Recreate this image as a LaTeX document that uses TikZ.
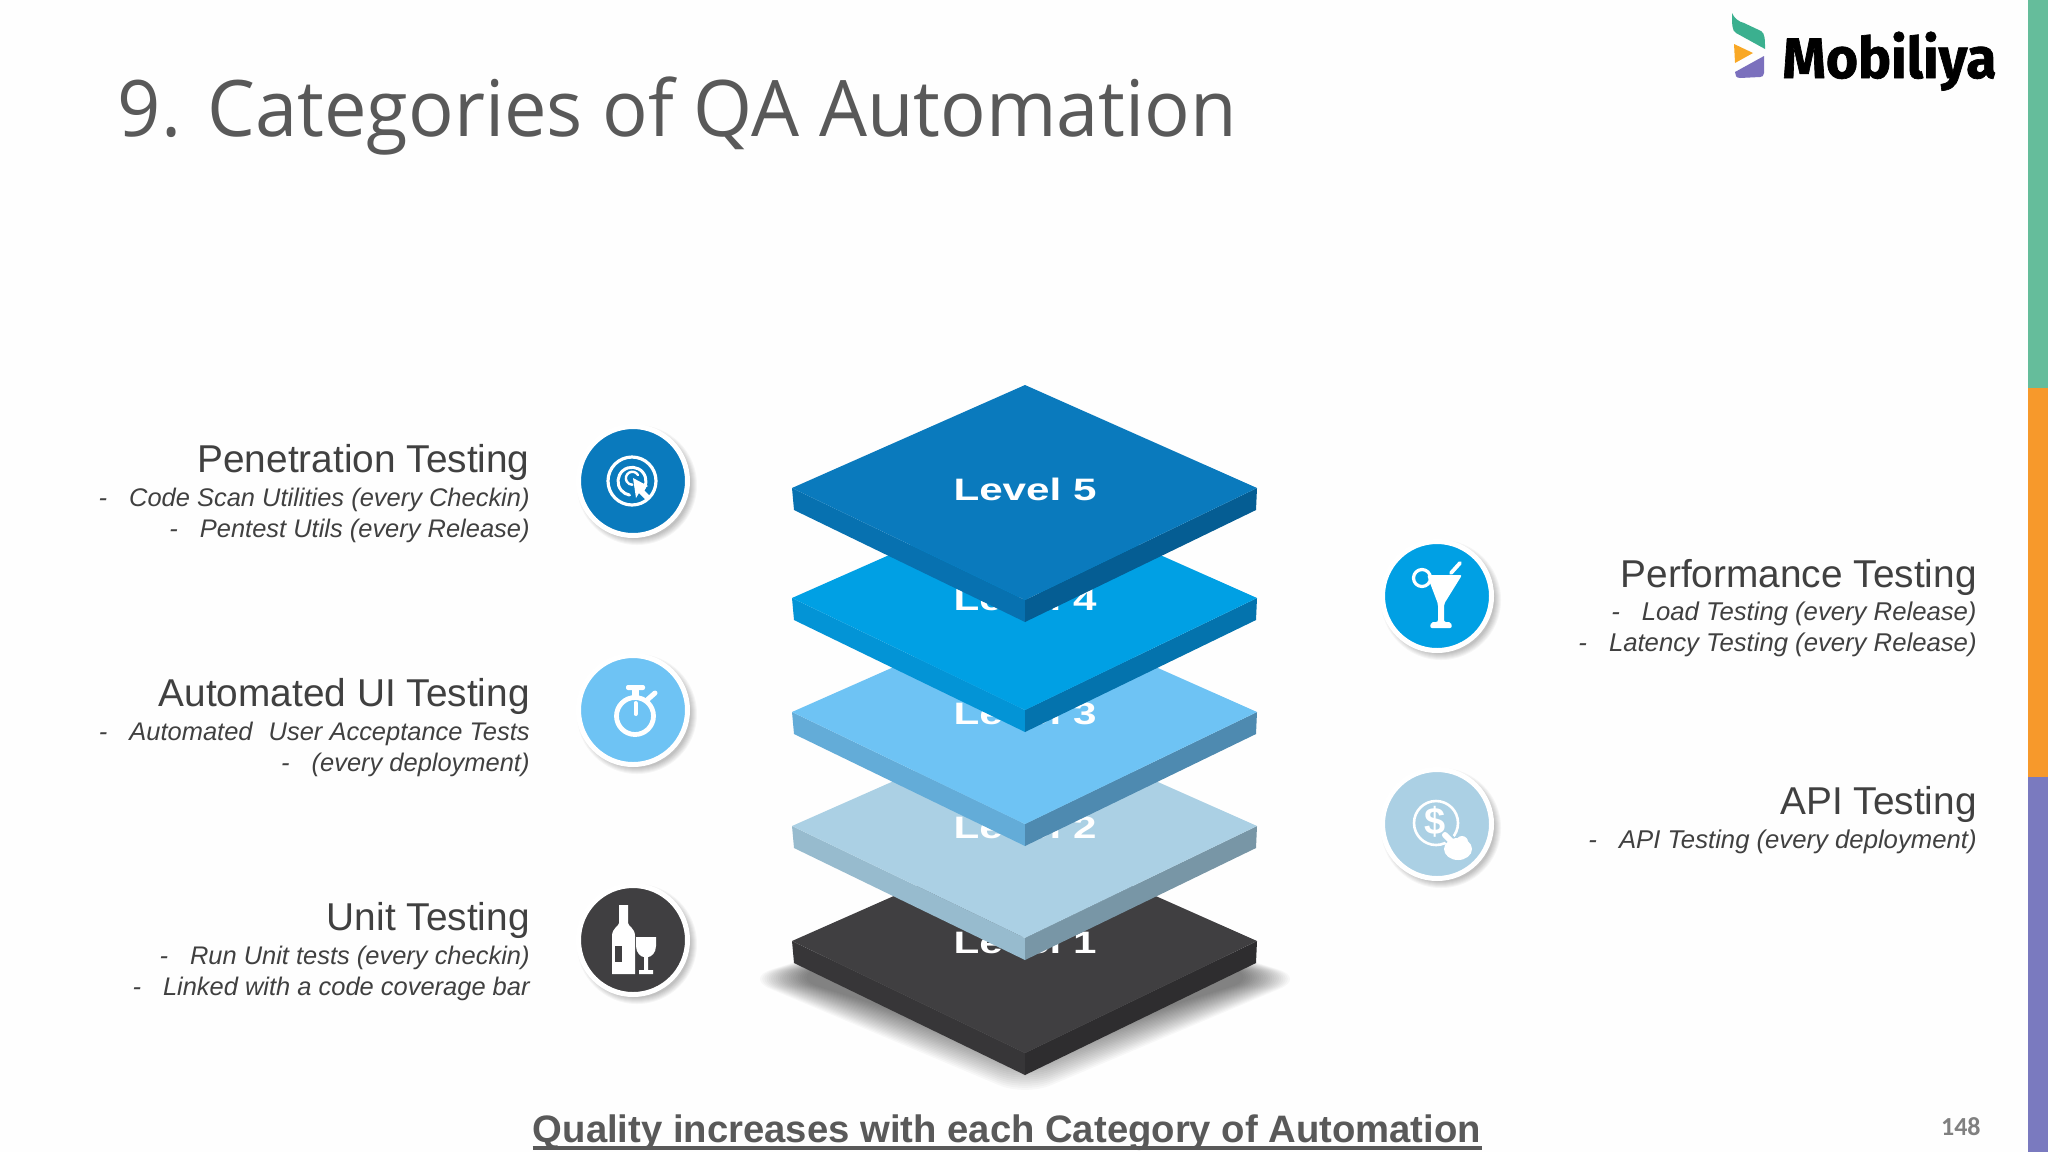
\documentclass[tikz,border=0pt]{standalone}
\usepackage{fontspec}
\usepackage{graphicx}
\setmainfont{Liberation Sans}
\newfontfamily\titlefont{Open Sans}
\newfontfamily\pagefont{Carlito}
\newfontfamily\logofont[BoldFeatures={FakeBold=1.2}]{Fira Sans}
\definecolor{inkc}{HTML}{404040}
\definecolor{pagebg}{HTML}{FEFEFE}
\definecolor{titlec}{HTML}{595959}
\definecolor{barG}{HTML}{65BD9B}\definecolor{barO}{HTML}{F7992B}\definecolor{barP}{HTML}{7A7ABF}
\definecolor{logoG}{HTML}{3BB08F}\definecolor{logoO}{HTML}{F9A825}\definecolor{logoP}{HTML}{7B70BD}
\definecolor{Lfive}{HTML}{0A7ABD}\definecolor{LfiveA}{HTML}{0771B0}\definecolor{LfiveB}{HTML}{055D93}
\definecolor{Lfour}{HTML}{00A0E4}\definecolor{LfourA}{HTML}{0394D6}\definecolor{LfourB}{HTML}{0473AD}
\definecolor{Lthree}{HTML}{6EC3F4}\definecolor{LthreeA}{HTML}{63ACD8}\definecolor{LthreeB}{HTML}{4E8AB0}
\definecolor{Ltwo}{HTML}{ABD0E4}\definecolor{LtwoA}{HTML}{97BBCE}\definecolor{LtwoB}{HTML}{7896A6}
\definecolor{Lone}{HTML}{403F41}\definecolor{LoneA}{HTML}{373638}\definecolor{LoneB}{HTML}{2E2D2F}
\tikzset{
  head/.style={anchor=base east,inner sep=0pt,text=inkc,font=\fontsize{19.4}{23}\selectfont},
  sub/.style={anchor=base east,inner sep=0pt,text=inkc,font=\fontsize{12.73}{15}\selectfont\itshape},
  subr/.style={sub,font=\fontsize{12.85}{15}\selectfont\itshape},
  lvl/.style={anchor=base,inner sep=0pt,text=white,font=\fontsize{15.5}{18}\selectfont\bfseries},
  badge/.style={circle,inner sep=0pt,minimum size=54.5pt,draw=white,line width=2.5pt},
  wht/.style={draw=white,line cap=round,line join=round},
  whf/.style={fill=white,draw=none}
}
\newcommand{\dashgap}{-\hspace{11pt}}
\newcommand{\plate}[6]{%
  \fill[#3] (792,#1) -- (1025,#1+112) -- (1025,#1+134) -- (794,#1+22) -- cycle;
  \fill[#4] (1257,#1) -- (1025,#1+112) -- (1025,#1+134) -- (1256,#1+22) -- cycle;
  \fill[#2] (792,#1) -- (1025,#1-103) -- (1257,#1) -- (1025,#1+112) -- cycle;
  \node[lvl] (#6) at (1025,#1+12) {\scalebox{1.36}[1]{#5}};
}
\newcommand{\disc}[4]{%
  \foreach \k in {1,...,7}{\fill[black,opacity=.035] (#2+4,#3+4) circle ({53+\k});}
  \node[badge,fill=#4] (#1) at (#2,#3) {};
}
\begin{document}
\begin{tikzpicture}[x=0.5pt,y=-0.5pt]
\fill[pagebg] (0,0) rectangle (2048,1152);
% right bar
\fill[barG] (2028,0) rectangle (2048,388);
\fill[barO] (2028,388) rectangle (2048,777);
\fill[barP] (2028,777) rectangle (2048,1152);
% logo
\fill[logoG] (1732,13) .. controls (1734,18) and (1739,22) .. (1744,23) -- (1761,31) .. controls (1765,33) and (1765,40) .. (1765,49) -- (1736,33) .. controls (1732,31) and (1732,25) .. cycle;
\fill[logoO] (1734,44) -- (1753,53) -- (1735,63) -- cycle;
\fill[logoP] (1764,56) -- (1764,73) .. controls (1764,76) and (1762,77) .. (1760,77) -- (1740,78) .. controls (1736,78) and (1735,75) .. (1735,72) -- cycle;
\node[anchor=base west,inner sep=0pt,text=black] (logo) at (1782,78) {\resizebox*{107pt}{29.5pt}{\logofont\bfseries Mobiliya}};
% title
\node[anchor=base west,inner sep=0pt,text=titlec,font=\titlefont\fontsize{39}{46}\selectfont] (title) at (117.5,136) {\scalebox{0.972}[1]{9. Categories of QA Automation}};
% shadow of the bottom plate
\foreach \k in {1,...,22}{
  \fill[black,opacity=.026,rounded corners=14pt] (1025-232-\k*2.2,978) -- (1025,890) -- (1025+232+\k*2.2,978) -- (1025,1050+\k*2.1) -- cycle;
}
\plate{941}{Lone}{LoneA}{LoneB}{Level 1}{lvA}
\plate{826}{Ltwo}{LtwoA}{LtwoB}{Level 2}{lvB}
\plate{712}{Lthree}{LthreeA}{LthreeB}{Level 3}{lvC}
\plate{598}{Lfour}{LfourA}{LfourB}{Level 4}{lvD}
\plate{488}{Lfive}{LfiveA}{LfiveB}{Level 5}{lvE}
% left text
\node[head] (tP) at (530,472) {Penetration Testing};
\node[sub] (tPa) at (530,506) {\dashgap Code Scan Utilities (every Checkin)};
\node[sub] (tPb) at (530,537) {\dashgap Pentest Utils (every Release)};
\node[head] (tU) at (530,706) {Automated UI Testing};
\node[sub] (tUa) at (530,740) {\dashgap Automated\ \ \hspace{1pt}User Acceptance Tests};
\node[sub] (tUb) at (530,771) {\dashgap (every deployment)};
\node[head] (tN) at (530,930) {Unit Testing};
\node[sub] (tNa) at (530,964) {\dashgap Run Unit tests (every checkin)};
\node[sub] (tNb) at (530,995) {\dashgap Linked with a code coverage bar};
% right text
\node[head] (tR) at (1977,587) {Performance Testing};
\node[subr] (tRa) at (1977,620) {\dashgap Load Testing (every Release)};
\node[subr] (tRb) at (1977,651) {\dashgap Latency Testing (every Release)};
\node[head] (tA) at (1977,814) {API Testing};
\node[subr] (tAa) at (1977,848) {\dashgap API Testing (every deployment)};
% badges
\disc{bE}{633}{481}{Lfive}
\disc{bC}{633}{710}{Lthree}
\disc{bA}{633}{940}{Lone}
\disc{bD}{1437}{596}{Lfour}
\disc{bB}{1437}{824}{Ltwo}
% target icon
\draw[wht,line width=1.6pt] (632,481) circle (24);
\draw[wht,line width=1.5pt] (641,492) arc (50:-260:14);
\draw[wht,line width=1.2pt] (638,475) arc (-30:-270:6.5);
\fill[white] (633,478) -- (648,486) -- (643,489) -- (650,496) -- (646,500) -- (639,493) -- (636,498) -- cycle;
% stopwatch icon
\draw[wht,line width=2.4pt] (635,716) circle (18.5);
\fill[white,rounded corners=1pt] (626,685) rectangle (645,690);
\fill[white] (632,688) rectangle (639,697);
\draw[wht,line width=2.5pt] (647,700) -- (655,693);
\draw[wht,line width=2pt] (635.5,703) -- (635.5,714);
% bottle icon
\fill[white] (619,905) -- (628,905) -- (628,923) .. controls (628,926) and (635,928) .. (635,936) -- (635,974) -- (612,974) -- (612,936) .. controls (612,928) and (619,926) .. (619,923) -- cycle;
\fill[Lone] (615,946) rectangle (622,962);
\fill[white] (636,937) -- (656,937) -- (656,946) .. controls (656,953) and (651,957) .. (648,957) -- (648,970) -- (653,970) -- (653,974) -- (639,974) -- (639,970) -- (644,970) -- (644,957) .. controls (641,957) and (636,953) .. (636,946) -- cycle;
% cocktail icon
\draw[wht,line width=1.6pt] (1422,578) circle (8.5);
\fill[white,rounded corners=1pt] (1427,575) -- (1462,575) -- (1444,604) -- (1444,622) -- (1451,622) -- (1452,628) -- (1430,628) -- (1431,622) -- (1438,622) -- (1438,604) -- cycle;
\draw[wht,line width=1.9pt] (1451,573) -- (1460,563);
% dollar icon
\draw[wht,line width=1.3pt] (1436,823) circle (22);
\node[inner sep=0pt,text=white,font=\fontsize{19}{19}\selectfont\bfseries] (dollar) at (1435,822) {\$};
\draw[Ltwo,line width=5pt,line cap=round] (1446,836) -- (1462,851);
\draw[wht,line width=3pt] (1445,835) -- (1456,846);
\fill[white] (1458,849) ellipse (14 and 11);
\fill[white] (1462,842) circle (6);
% footer
\node[anchor=base,inner sep=0pt,text=titlec,font=\fontsize{19.13}{22}\selectfont\bfseries] (qual) at (1007,1142) {Quality increases with each Category of Automation};
\draw[titlec,line width=1.8pt] ([yshift=-3pt]qual.base west) -- ([yshift=-3pt]qual.base east);
\node[anchor=base east,inner sep=0pt,text=gray,font=\pagefont\fontsize{13}{15}\selectfont\bfseries] (pg) at (1981,1135) {148};
\end{tikzpicture}
\end{document}
